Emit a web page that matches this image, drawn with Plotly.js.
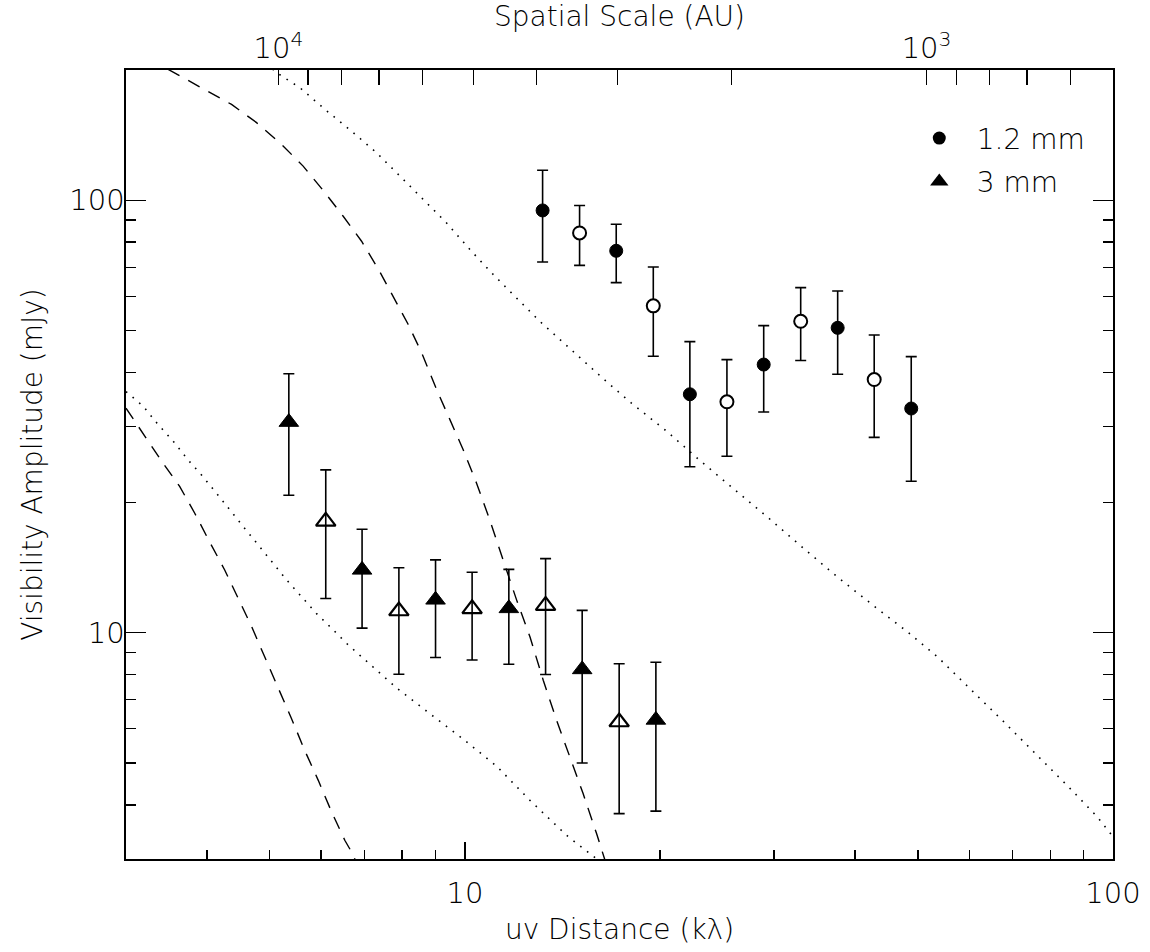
<!DOCTYPE html>
<html>
<head>
<meta charset="utf-8">
<script src="https://cdn.plot.ly/plotly-3.0.1.min.js"></script>
<style>html,body{margin:0;padding:0;background:#fff;}#chart{width:1150px;height:952px;}</style>
</head>
<body>
<div id="chart"></div>
<script>
// ---- 1.2 mm data (uv distance in kλ, amplitude in mJy) ----
const uv12 = [13.18, 15.03, 17.12, 19.53, 22.24, 25.37, 28.91, 32.97, 37.60, 42.81, 48.83];
const amp12 = [94.7, 84.0, 76.4, 57.0, 35.6, 34.2, 41.7, 52.5, 50.7, 38.5, 33.0];
const hi12 = [117.3, 97.2, 88.0, 70.1, 47.1, 42.8, 51.3, 62.8, 61.7, 48.8, 43.5];
const lo12 = [72.0, 70.7, 64.5, 43.6, 24.2, 25.6, 32.4, 42.6, 39.6, 28.3, 22.4];
const open12 = [false, true, false, true, false, true, false, true, false, true, false];

// ---- 3 mm data ----
const uv3 = [5.35, 6.10, 6.94, 7.91, 9.01, 10.26, 11.69, 13.32, 15.17, 17.30, 19.71];
const amp3 = [30.7, 18.1, 13.98, 11.23, 11.92, 11.36, 11.39, 11.56, 8.23, 6.22, 6.29];
const hi3 = [39.7, 23.8, 17.35, 14.14, 14.74, 13.80, 14.02, 14.84, 11.27, 8.48, 8.55];
const lo3 = [20.8, 12.0, 10.25, 8.02, 8.77, 8.65, 8.46, 8.01, 5.00, 3.82, 3.87];
const open3 = [false, true, false, true, false, true, false, true, false, true, false];

// ---- model curves ----
const dashHiX = [3.484, 3.946, 4.365, 4.771, 5.214, 5.629, 6.059, 6.490, 6.928, 7.349, 7.751, 8.177, 8.576, 9.044, 9.482, 9.940, 10.42, 10.93, 11.46, 12.02, 12.60, 13.21, 13.85, 14.52, 15.22, 15.97, 16.44];
const dashHiY = [200.7, 181.1, 166.5, 151.1, 134.6, 119.9, 104.9, 91.8, 80.4, 69.4, 59.9, 51.6, 44.4, 36.5, 31.1, 26.5, 22.2, 18.2, 14.7, 11.9, 9.79, 7.77, 6.28, 5.16, 4.25, 3.43, 2.99];
const dotHiX = [5.05, 5.122, 5.566, 6.081, 6.686, 7.308, 7.988, 8.623, 9.371, 10.18, 11.00, 11.95, 13.05, 14.69, 16.53, 18.07, 20.51, 22.99, 26.11, 29.44, 33.43, 37.72, 42.56, 48.00, 53.82, 60.71, 68.03, 76.27, 84.95, 94.65, 100];
const dotHiY = [201, 197.2, 182.0, 162.2, 144.4, 128.7, 112.7, 100.4, 88.6, 76.9, 67.9, 59.9, 52.5, 44.7, 38.1, 33.96, 29.2, 25.1, 21.4, 18.4, 15.6, 13.4, 11.6, 10.1, 8.75, 7.35, 6.2, 5.22, 4.44, 3.75, 3.38];
const dotLoX = [3.0, 3.19, 3.35, 3.55, 3.74, 3.92, 4.14, 4.34, 4.55, 4.80, 5.03, 5.31, 5.60, 5.90, 6.23, 6.57, 6.97, 7.85, 8.83, 9.94, 11.19, 12.60, 14.36, 15.81, 16.2];
const dotLoY = [36.1, 33.4, 30.5, 27.7, 25.1, 23.2, 21.0, 19.2, 17.6, 15.96, 14.6, 13.24, 12.11, 11.09, 10.24, 9.45, 8.73, 7.45, 6.50, 5.68, 4.92, 4.10, 3.40, 3.03, 2.95];
const dashLoX = [3.0, 3.21, 3.42, 3.63, 3.83, 4.04, 4.26, 4.47, 4.69, 4.91, 5.15, 5.40, 5.66, 5.94, 6.23, 6.53, 6.69, 6.77];
const dashLoY = [33.06, 28.4, 24.7, 21.8, 18.9, 16.2, 13.97, 12.01, 10.32, 8.80, 7.50, 6.34, 5.35, 4.56, 3.85, 3.31, 3.11, 2.99];

// ---- axis ticks ----
const xMajor = [10, 100];
const xMinor = [4, 5, 6, 7, 8, 9, 20, 30, 40, 50, 60, 70, 80, 90];
const yMajor = [10, 100];
const yMinor = [4, 5, 6, 7, 8, 9, 20, 30, 40, 50, 60, 70, 80, 90];
const auMajor = [10000, 1000];
const auMajorText = ['10<sup>4</sup>', '10<sup>3</sup>'];
const auMinor = [9000, 8000, 7000, 6000, 5000, 4000, 3000, 2000, 900, 800, 700, 600];
const auPerKlambda = 51566; // spatial scale (AU) = auPerKlambda / uv (kλ)
const xMin = 3, xMax = 100, yMin = 3, yMax = 200;

const FONT = 'DejaVu Sans, Liberation Sans, sans-serif';
const TICKSIZE = 29, TITLESIZE = 28;

function pick(arr, flags, want) { return arr.filter((v, i) => flags[i] === want); }

function pointTrace(x, y, hi, lo, flags, want, symbol, size, lw, fill) {
  const xs = pick(x, flags, want), ys = pick(y, flags, want);
  const his = pick(hi, flags, want), los = pick(lo, flags, want);
  return {
    type: 'scatter', mode: 'markers', x: xs, y: ys, showlegend: false,
    marker: { symbol: symbol, size: size, color: fill, line: { color: '#000', width: lw } },
    error_y: { type: 'data', symmetric: false, array: his.map((h, i) => h - ys[i]), arrayminus: los.map((l, i) => ys[i] - l), color: '#000', thickness: 1.6, width: 5.5 }
  };
}

const traces = [
  { type: 'scatter', mode: 'lines', x: dashHiX, y: dashHiY, line: { color: '#000', width: 1.4, dash: '13px,10px' }, showlegend: false },
  { type: 'scatter', mode: 'lines', x: dashLoX, y: dashLoY, line: { color: '#000', width: 1.4, dash: '13px,10px' }, showlegend: false },
  { type: 'scatter', mode: 'lines', x: dotHiX, y: dotHiY, line: { color: '#000', width: 1.6, dash: '1.6px,7px' }, showlegend: false },
  { type: 'scatter', mode: 'lines', x: dotLoX, y: dotLoY, line: { color: '#000', width: 1.6, dash: '1.6px,7px' }, showlegend: false },
  pointTrace(uv12, amp12, hi12, lo12, open12, false, 'circle', 13, 1, '#000'),
  pointTrace(uv12, amp12, hi12, lo12, open12, true, 'circle', 13, 2, '#fff'),
  pointTrace(uv3, amp3, hi3, lo3, open3, false, 'triangle-up', 17, 1, '#000'),
  pointTrace(uv3, amp3, hi3, lo3, open3, true, 'triangle-up-open', 17, 2.2, '#000'),
  { type: 'scatter', mode: 'markers', x: [null], y: [null], name: '1.2 mm', marker: { symbol: 'circle', size: 13, color: '#000' }, legendgroup: 'a' },
  { type: 'scatter', mode: 'markers', x: [null], y: [null], name: '3 mm', marker: { symbol: 'triangle-up', size: 17, color: '#000' }, legendgroup: 'b' },
  { type: 'scatter', mode: 'markers', x: [auPerKlambda / xMin], y: [yMin], xaxis: 'x2', yaxis: 'y', marker: { opacity: 0 }, hoverinfo: 'skip', showlegend: false }
];

const layout = {
  width: 1150, height: 952,
  margin: { l: 126, r: 37, t: 70, b: 93, pad: 0 },
  paper_bgcolor: '#fff', plot_bgcolor: '#fff',
  font: { family: FONT, color: '#000', size: 24, weight: 200 },
  showlegend: true,
  legend: {
    x: 0.786, y: 0.945, xanchor: 'left', yanchor: 'top',
    bgcolor: 'rgba(0,0,0,0)', borderwidth: 0,
    font: { family: FONT, size: 28, color: '#000', weight: 200 },
    traceorder: 'grouped', tracegroupgap: 4, itemwidth: 65
  },
  xaxis: {
    type: 'log', range: [Math.log10(xMin), Math.log10(xMax)], autorange: false,
    showline: true, linecolor: '#000', linewidth: 1.6, mirror: true,
    ticks: 'inside', ticklen: 17, tickwidth: 1.3, tickcolor: '#000',
    tickmode: 'array', tickvals: xMajor, ticktext: xMajor.map(String),
    minor: { tickmode: 'array', tickvals: xMinor, ticks: 'inside', ticklen: 9, tickwidth: 1.3, tickcolor: '#000', showgrid: false },
    showgrid: false, zeroline: false,
    tickfont: { family: FONT, size: TICKSIZE, color: '#000', weight: 200 },
    ticklabelstandoff: 8,
    title: { text: 'uv Distance (kλ)', font: { family: FONT, size: TITLESIZE, color: '#000', weight: 200 }, standoff: 10 }
  },
  xaxis2: {
    type: 'log', overlaying: 'x', side: 'top', anchor: 'y',
    range: [Math.log10(auPerKlambda / xMin), Math.log10(auPerKlambda / xMax)], autorange: false,
    showline: false, ticks: 'inside', ticklen: 15, tickwidth: 1.3, tickcolor: '#000',
    tickmode: 'array', tickvals: auMajor, ticktext: auMajorText,
    minor: { tickmode: 'array', tickvals: auMinor, ticks: 'inside', ticklen: 15, tickwidth: 1.3, tickcolor: '#000', showgrid: false },
    showgrid: false, zeroline: false,
    tickfont: { family: FONT, size: TICKSIZE, color: '#000', weight: 200 },
    ticklabelstandoff: 5,
    title: { text: 'Spatial Scale (AU)', font: { family: FONT, size: TITLESIZE, color: '#000', weight: 200 }, standoff: 0 }
  },
  yaxis: {
    type: 'log', range: [Math.log10(yMin), Math.log10(yMax)], autorange: false,
    showline: true, linecolor: '#000', linewidth: 1.6, mirror: 'ticks',
    ticks: 'inside', ticklen: 20, tickwidth: 1.3, tickcolor: '#000',
    tickmode: 'array', tickvals: yMajor, ticktext: yMajor.map(String),
    minor: { tickmode: 'array', tickvals: yMinor, ticks: 'inside', ticklen: 10, tickwidth: 1.3, tickcolor: '#000', showgrid: false },
    showgrid: false, zeroline: false,
    tickfont: { family: FONT, size: TICKSIZE, color: '#000', weight: 200 },
    ticklabelstandoff: -6,
    title: { text: 'Visibility Amplitude (mJy)', font: { family: FONT, size: TITLESIZE, color: '#000', weight: 200 }, standoff: 18 }
  }
};

Plotly.newPlot('chart', traces, layout, { staticPlot: true, displayModeBar: false });
</script>
</body>
</html>
